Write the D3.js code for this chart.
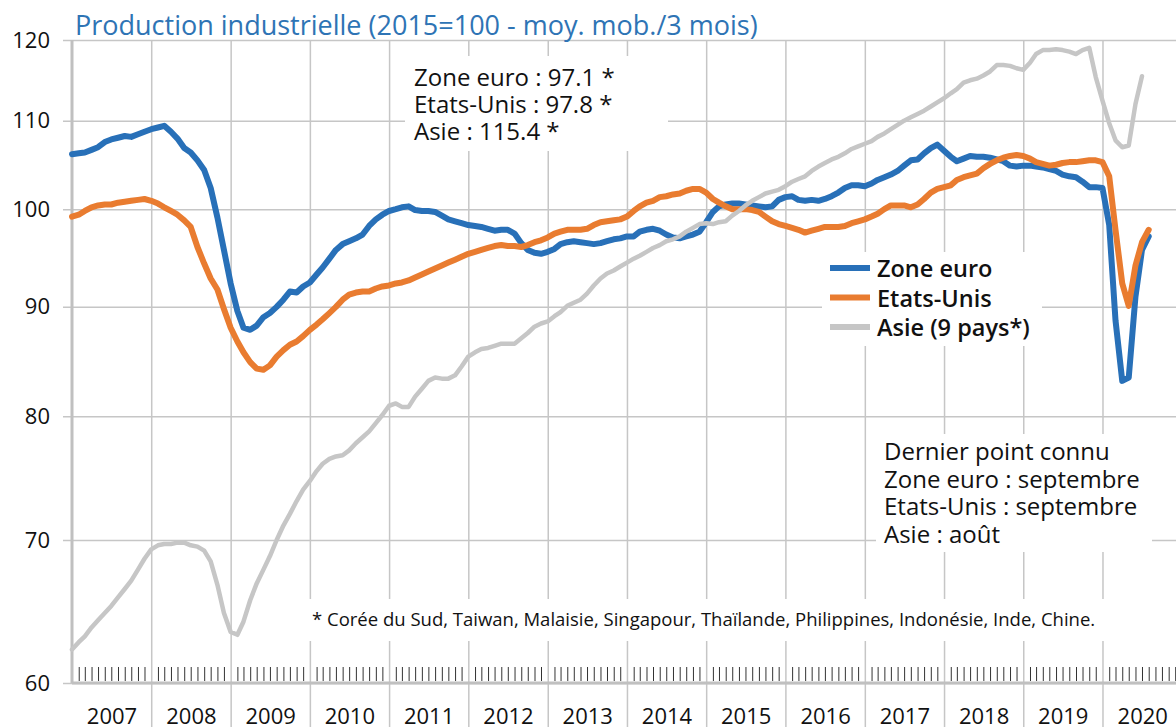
<!DOCTYPE html>
<html>
<head>
<meta charset="utf-8">
<script src="https://cdn.jsdelivr.net/npm/d3@7/dist/d3.min.js"></script>
<style>
  body { margin: 0; background: #fff; }
  svg { display: block; font-family: "Open Sans", sans-serif; }
  .grid line { stroke: #c6c6c6; stroke-width: 1.5; }
  .grid .domain { display: none; }
  .months line { stroke: #333; stroke-width: 1; }
  .months .domain { display: none; }
  .serie { fill: none; stroke-linejoin: round; stroke-linecap: round; }
</style>
</head>
<body>
<svg id="chart" width="1176" height="727"></svg>
<script>
// monthly series, first value = janvier 2007
var startMonth = new Date(2007, 0, 1);
var years = [2007, 2008, 2009, 2010, 2011, 2012, 2013, 2014, 2015, 2016, 2017, 2018, 2019, 2020];
var yTicks = [60, 70, 80, 90, 100, 110, 120];

var zoneEuro = [
  106.1, 106.2, 106.3, 106.6, 106.9, 107.5, 107.8, 108.0, 108.2, 108.1, 108.4, 108.7,
  109.0, 109.2, 109.4, 108.7, 107.9, 106.8, 106.3, 105.4, 104.3, 102.3, 99.1, 95.7,
  92.3, 89.6, 88.0, 87.8, 88.2, 89.0, 89.4, 90.0, 90.7, 91.5, 91.4, 92.0,
  92.4, 93.2, 93.9, 94.8, 95.7, 96.3, 96.6, 96.9, 97.3, 98.2, 98.9, 99.4,
  99.8, 100.0, 100.2, 100.3, 99.9, 99.8, 99.8, 99.7, 99.3, 98.9, 98.7, 98.5,
  98.3, 98.2, 98.1, 97.9, 97.7, 97.8, 97.8, 97.4, 96.4, 95.7, 95.4, 95.3,
  95.5, 95.8, 96.3, 96.5, 96.6, 96.5, 96.4, 96.3, 96.4, 96.6, 96.8, 96.9,
  97.1, 97.1, 97.6, 97.8, 97.9, 97.7, 97.3, 97.0, 96.9, 97.1, 97.3, 97.6,
  98.6, 99.7, 100.3, 100.5, 100.6, 100.6, 100.5, 100.4, 100.3, 100.2, 100.3, 101.0,
  101.3, 101.4, 101.0, 100.9, 101.0, 100.9, 101.1, 101.4, 101.8, 102.3, 102.6, 102.6,
  102.5, 102.8, 103.2, 103.5, 103.8, 104.2, 104.8, 105.4, 105.5, 106.2, 106.8, 107.2,
  106.5, 105.8, 105.3, 105.6, 105.9, 105.8, 105.8, 105.7, 105.5, 105.3, 104.8, 104.7,
  104.8, 104.8, 104.7, 104.6, 104.4, 104.2, 103.8, 103.6, 103.5, 103.0, 102.4, 102.4,
  102.3, 98.3, 88.7, 83.1, 83.4, 91.0, 95.7, 97.1
];

var etatsUnis = [
  99.2, 99.4, 99.8, 100.2, 100.4, 100.5, 100.5, 100.7, 100.8, 100.9, 101.0, 101.1,
  100.9, 100.6, 100.2, 99.8, 99.4, 98.8, 98.1, 96.0, 94.3, 92.8, 91.7, 89.8,
  88.0, 86.7, 85.7, 84.8, 84.2, 84.1, 84.5, 85.3, 85.9, 86.4, 86.7, 87.2,
  87.8, 88.3, 88.8, 89.4, 90.0, 90.7, 91.2, 91.4, 91.5, 91.5, 91.8, 92.0,
  92.1, 92.3, 92.4, 92.6, 92.9, 93.2, 93.5, 93.8, 94.1, 94.4, 94.7, 95.0,
  95.3, 95.5, 95.7, 95.9, 96.1, 96.2, 96.1, 96.1, 96.0, 96.2, 96.5, 96.7,
  97.0, 97.4, 97.6, 97.8, 97.8, 97.8, 97.9, 98.3, 98.6, 98.7, 98.8, 98.9,
  99.2, 99.8, 100.3, 100.7, 100.9, 101.3, 101.4, 101.6, 101.7, 102.0, 102.2, 102.2,
  101.8, 101.1, 100.7, 100.3, 100.0, 100.0, 100.0, 99.9, 99.7, 99.2, 98.7, 98.4,
  98.2, 98.0, 97.8, 97.5, 97.7, 97.9, 98.1, 98.1, 98.1, 98.2, 98.5, 98.7,
  98.9, 99.2, 99.5, 100.0, 100.4, 100.4, 100.4, 100.2, 100.5, 101.1, 101.8, 102.2,
  102.4, 102.6, 103.2, 103.5, 103.7, 103.9, 104.5, 105.0, 105.4, 105.7, 105.9, 106.0,
  105.9, 105.6, 105.2, 105.0, 104.8, 104.9, 105.1, 105.2, 105.2, 105.3, 105.4, 105.4,
  105.2, 103.6, 97.8, 92.3, 90.1, 94.1, 96.5, 97.8
];

var asie = [
  62.2, 62.7, 63.1, 63.7, 64.2, 64.7, 65.2, 65.8, 66.4, 67.0, 67.8, 68.6,
  69.3, 69.6, 69.7, 69.7, 69.8, 69.8, 69.6, 69.5, 69.2, 68.4, 66.7, 64.7,
  63.4, 63.2, 64.1, 65.6, 66.8, 67.8, 68.8, 70.0, 71.1, 72.0, 73.0, 73.9,
  74.6, 75.4, 76.0, 76.4, 76.6, 76.7, 77.1, 77.7, 78.2, 78.7, 79.4, 80.1,
  80.9, 81.1, 80.8, 80.8, 81.7, 82.4, 83.1, 83.4, 83.3, 83.3, 83.6, 84.4,
  85.3, 85.7, 86.0, 86.1, 86.3, 86.5, 86.5, 86.5, 87.0, 87.5, 88.1, 88.4,
  88.6, 89.1, 89.5, 90.1, 90.4, 90.7, 91.3, 92.1, 92.8, 93.3, 93.6, 94.0,
  94.4, 94.8, 95.1, 95.5, 95.9, 96.2, 96.6, 96.8, 97.1, 97.6, 98.0, 98.4,
  98.5, 98.4, 98.6, 98.7, 99.3, 99.8, 100.4, 100.9, 101.3, 101.7, 101.9, 102.1,
  102.5, 103.0, 103.3, 103.6, 104.2, 104.7, 105.1, 105.5, 105.8, 106.2, 106.7, 107.0,
  107.3, 107.6, 108.1, 108.5, 109.0, 109.5, 110.0, 110.4, 110.8, 111.2, 111.7, 112.2,
  112.7, 113.3, 113.8, 114.6, 114.9, 115.1, 115.5, 116.0, 116.8, 116.8, 116.7, 116.4,
  116.2, 117.1, 118.2, 118.7, 118.7, 118.8, 118.7, 118.5, 118.2, 118.7, 119.0, 115.3,
  112.4, 109.7, 107.7, 106.9, 107.1, 112.0, 115.4
];

var series = [
  { name: "Zone euro", values: zoneEuro, color: "#2870b8", width: 6 },
  { name: "Etats-Unis", values: etatsUnis, color: "#e97c30", width: 6 },
  { name: "Asie (9 pays*)", values: asie, color: "#c6c6c6", width: 4.5 }
];

var W = 1176, H = 727,
    plotLeft = 72, plotTop = 40, plotBottom = 683;

var svg = d3.select("#chart");

var x = d3.scaleTime()
    .domain([startMonth, new Date(years[years.length - 1] + 1, 0, 1)])
    .range([plotLeft, plotLeft + 79.28 * years.length]);

var y = d3.scaleLog()
    .domain([60, 120])
    .range([plotBottom, plotTop]);

function monthDate(i) { return d3.timeMonth.offset(startMonth, i); }

// horizontal grid (with the small tick left of the axis)
svg.append("g")
    .attr("class", "grid")
    .attr("transform", "translate(" + W + ",0)")
    .call(d3.axisLeft(y).tickValues(yTicks).tickSize(W - 63).tickFormat(""));

// vertical grid at each year, running down between the year labels
var yearStarts = years.slice(1).map(function(yr) { return new Date(yr, 0, 1); });
svg.append("g")
    .attr("class", "grid")
    .attr("transform", "translate(0," + H + ")")
    .call(d3.axisTop(x).tickValues(yearStarts).tickSize(H - plotTop).tickFormat(""));

// white boxes behind the notes
var boxes = [
  [405, 56, 263, 95],
  [822, 252, 220, 94],
  [876, 434, 276, 118],
  [305, 599, 801, 42]
];
svg.append("g").selectAll("rect")
    .data(boxes)
    .join("rect")
    .attr("x", function(d) { return d[0]; })
    .attr("y", function(d) { return d[1]; })
    .attr("width", function(d) { return d[2]; })
    .attr("height", function(d) { return d[3]; })
    .attr("fill", "#fff");

// month ticks above the x axis
var monthTicks = d3.timeMonth.range(startMonth, x.domain()[1])
    .filter(function(d) { return d.getMonth() !== 0; });
svg.append("g")
    .attr("class", "months")
    .attr("transform", "translate(0," + (plotBottom - 2) + ")")
    .call(d3.axisTop(x).tickValues(monthTicks).tickSize(14).tickFormat(""));

// axis lines
svg.append("line")
    .attr("x1", plotLeft).attr("x2", plotLeft)
    .attr("y1", y(120)).attr("y2", y(60))
    .attr("stroke", "#c0c0c0").attr("stroke-width", 3);
svg.append("line")
    .attr("x1", plotLeft).attr("x2", W)
    .attr("y1", y(60)).attr("y2", y(60))
    .attr("stroke", "#c0c0c0").attr("stroke-width", 3);

// y labels
var yAxis = svg.append("g")
    .attr("transform", "translate(" + plotLeft + ",0)")
    .call(d3.axisLeft(y).tickValues(yTicks).tickSize(0).tickPadding(22).tickFormat(d3.format("d")));
yAxis.select(".domain").remove();
yAxis.selectAll("text")
    .attr("fill", "#111")
    .style("font-size", "22px")
    .style("font-family", "Open Sans");

// year labels, centred on each year
var yearMids = years.map(function(yr) { return new Date(yr, 6, 2); });
var xAxis = svg.append("g")
    .attr("transform", "translate(0," + plotBottom + ")")
    .call(d3.axisBottom(x).tickValues(yearMids).tickSize(0).tickFormat(d3.timeFormat("%Y")));
xAxis.select(".domain").remove();
xAxis.selectAll("text")
    .attr("y", 41)
    .attr("dy", 0)
    .attr("fill", "#111")
    .style("font-size", "22px")
    .style("font-family", "Open Sans");

// lines
var line = d3.line()
    .x(function(d, i) { return x(monthDate(i)); })
    .y(function(d) { return y(d); });

svg.append("g").selectAll("path")
    .data(series)
    .join("path")
    .attr("class", "serie")
    .attr("d", function(d) { return line(d.values); })
    .attr("stroke", function(d) { return d.color; })
    .attr("stroke-width", function(d) { return d.width; });

// title
svg.append("text")
    .attr("x", 75).attr("y", 35)
    .attr("fill", "#2e74b5")
    .style("font-size", "27px")
    .text("Production industrielle (2015=100 - moy. mob./3 mois)");

// last values
var lastNotes = series.map(function(s) {
  var v = s.values[s.values.length - 1];
  return s.name.split(" (")[0] + " : " + v.toFixed(1) + " *";
});
svg.append("g").selectAll("text")
    .data(lastNotes)
    .join("text")
    .attr("x", 414)
    .attr("y", function(d, i) { return 86 + i * 27; })
    .attr("fill", "#111")
    .style("font-size", "24px")
    .text(function(d) { return d; });

// legend
var legend = svg.append("g").selectAll("g")
    .data(series)
    .join("g")
    .attr("transform", function(d, i) { return "translate(830," + (268 + i * 29.5) + ")"; });
legend.append("line")
    .attr("x1", 0).attr("x2", 40)
    .attr("stroke", function(d) { return d.color; })
    .attr("stroke-width", 6);
legend.append("text")
    .attr("x", 47).attr("y", 9)
    .attr("fill", "#111")
    .style("font-size", "23.5px")
    .style("font-weight", 600)
    .text(function(d) { return d.name; });

// last known point
var lastPoint = ["Dernier point connu", "Zone euro : septembre", "Etats-Unis : septembre", "Asie : août"];
svg.append("g").selectAll("text")
    .data(lastPoint)
    .join("text")
    .attr("x", 884)
    .attr("y", function(d, i) { return 460 + i * 27.5; })
    .attr("fill", "#111")
    .style("font-size", "24px")
    .text(function(d) { return d; });

// footnote
svg.append("text")
    .attr("x", 312).attr("y", 626)
    .attr("fill", "#111")
    .style("font-size", "18.5px")
    .text("* Corée du Sud, Taiwan, Malaisie, Singapour, Thaïlande, Philippines, Indonésie, Inde, Chine.");
</script>
</body>
</html>
